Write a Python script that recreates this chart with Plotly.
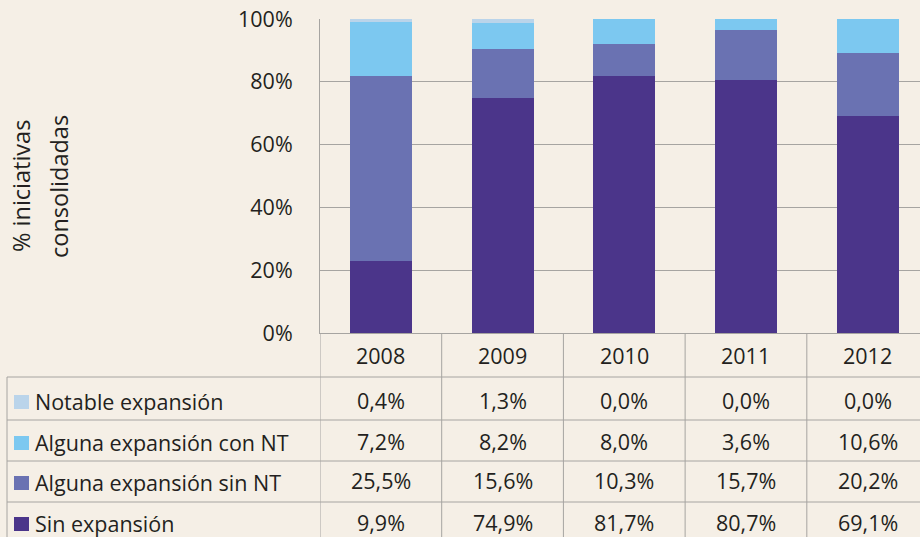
"""Stacked bar chart with data table: consolidated initiatives by expansion type."""
import plotly.graph_objects as go

years = ["2008", "2009", "2010", "2011", "2012"]

# bar heights (%) as drawn in the chart
sin_expansion = [23.0, 74.9, 81.7, 80.7, 69.1]
alguna_sin_nt = [59.0, 15.6, 10.3, 15.7, 20.2]
alguna_con_nt = [16.9, 8.2, 8.0, 3.6, 10.6]
notable = [1.1, 1.3, 0.0, 0.0, 0.0]

# values printed in the table below the chart
tabla_notable = ["0,4%", "1,3%", "0,0%", "0,0%", "0,0%"]
tabla_con_nt = ["7,2%", "8,2%", "8,0%", "3,6%", "10,6%"]
tabla_sin_nt = ["25,5%", "15,6%", "10,3%", "15,7%", "20,2%"]
tabla_sin_exp = ["9,9%", "74,9%", "81,7%", "80,7%", "69,1%"]

DARK = "#4b358a"
MID = "#6a72b2"
LIGHT = "#7cc8f0"
PALE = "#bad4ea"
BG = "#f5efe6"
GRID = "#a6a4a1"
TXT = "#231f20"
FONT = "Open Sans"
FS = 21.5

# pixel layout helpers (plot area: x 320..920, y 19..333)
L, R, T, B = 320, 920, 19, 333


def px_x(p):
    return (p - L) / (R - L)


def px_y(p):
    return (B - p) / (B - T)


fig = go.Figure()
series = [
    ("Sin expansión", sin_expansion, DARK),
    ("Alguna expansión sin NT", alguna_sin_nt, MID),
    ("Alguna expansión con NT", alguna_con_nt, LIGHT),
    ("Notable expansión", notable, PALE),
]
for name, vals, col in series:
    fig.add_trace(go.Bar(x=years, y=vals, name=name, marker_color=col,
                         marker_line_width=0, width=0.51))

# table rows: top to bottom
rows = [
    ("Notable expansión", tabla_notable, PALE, 400),
    ("Alguna expansión con NT", tabla_con_nt, LIGHT, 441),
    ("Alguna expansión sin NT", tabla_sin_nt, MID, 481),
    ("Sin expansión", tabla_sin_exp, DARK, 522),
]

shapes = []
annotations = []
line = dict(color=GRID, width=1)

# horizontal table lines
for py in [377, 420, 461, 502]:
    shapes.append(dict(type="line", xref="paper", yref="paper",
                       x0=px_x(7), x1=1, y0=px_y(py), y1=px_y(py), line=line))
# left border of the label column
shapes.append(dict(type="line", xref="paper", yref="paper",
                   x0=px_x(7), x1=px_x(7), y0=px_y(377), y1=px_y(540), line=line))
# column separators
for i in range(len(years)):
    shapes.append(dict(type="line", xref="x", yref="paper",
                       x0=i - 0.5, x1=i - 0.5, y0=0, y1=px_y(540), line=line))


def cell(text, x, py, xref="x", xanchor="center", size=FS):
    return dict(text=text, xref=xref, yref="paper", x=x, y=px_y(py),
                xanchor=xanchor, yanchor="middle", showarrow=False,
                font=dict(size=size, color=TXT, family=FONT))


for label, vals, col, py in rows:
    shapes.append(dict(type="rect", xref="paper", yref="paper",
                       x0=px_x(14), x1=px_x(29), y0=px_y(py - 5), y1=px_y(py + 9),
                       fillcolor=col, line_width=0))
    annotations.append(cell(label, px_x(33), py + 1, xref="paper", xanchor="left"))
    for i, v in enumerate(vals):
        annotations.append(cell(v, i, py))

# year header
for i, yr in enumerate(years):
    annotations.append(cell(yr, i, 355))

# y axis title (two lines, rotated)
for txt, px, py in [("% iniciativas", 21, 186), ("consolidadas", 59, 187)]:
    annotations.append(dict(text=txt, xref="paper", yref="paper",
                            x=px_x(px), y=px_y(py), textangle=-90, showarrow=False,
                            xanchor="center", yanchor="middle",
                            font=dict(size=23.5, color=TXT, family=FONT)))

fig.update_layout(
    barmode="stack",
    width=920, height=537,
    margin=dict(l=L, r=920 - R, t=T, b=537 - B),
    paper_bgcolor=BG, plot_bgcolor=BG,
    showlegend=False,
    shapes=shapes,
    annotations=annotations,
    font=dict(family=FONT, color=TXT, size=FS),
)
fig.update_xaxes(type="category", range=[-0.5, 4.43], showticklabels=False,
                 showgrid=False, showline=True, linecolor=GRID, linewidth=1,
                 zeroline=False, fixedrange=True)
fig.update_yaxes(range=[0, 100], dtick=20, ticksuffix="%", showgrid=True,
                 gridcolor=GRID, gridwidth=1, showline=True, linecolor=GRID,
                 linewidth=1, zeroline=False, ticks="", ticklabelstandoff=22,
                 tickfont=dict(size=FS, color=TXT, family=FONT), fixedrange=True)

fig.write_html("out.html", config={"displayModeBar": False},
               post_script="document.body.style.margin='0';")
